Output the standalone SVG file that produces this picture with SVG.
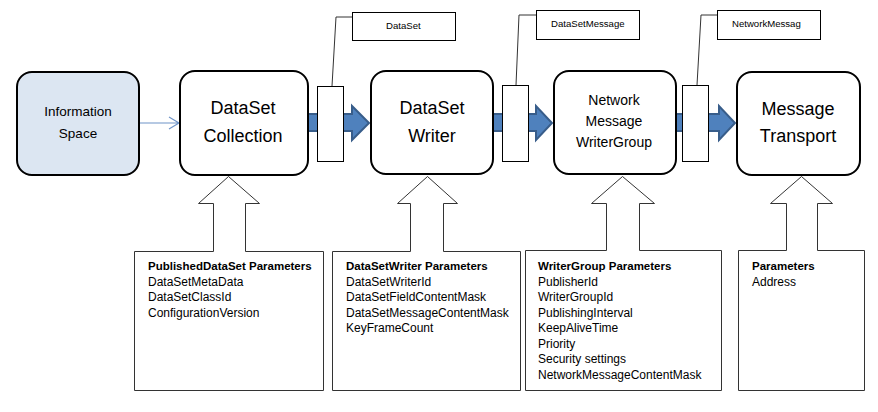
<svg xmlns="http://www.w3.org/2000/svg" width="878" height="412" viewBox="0 0 878 412">
<style>
.node{fill:#fff;stroke:#000;stroke-width:2}
.info{fill:#dce6f2}
.big{font-family:"Liberation Sans",Arial,sans-serif;font-size:18px;fill:#000;text-anchor:middle}
.mid{font-family:"Liberation Sans",Arial,sans-serif;font-size:14px;fill:#000;text-anchor:middle}
.sm{font-family:"Liberation Sans",Arial,sans-serif;font-size:13.5px;fill:#000;text-anchor:middle}
.lbl{font-family:"Liberation Sans",Arial,sans-serif;font-size:9.6px;fill:#000}
.p{font-family:"Liberation Sans",Arial,sans-serif;font-size:12px;fill:#000}
.pb{font-weight:bold;font-size:11.5px}
.box{fill:#fff;stroke:#000;stroke-width:1}
.callout{fill:#fff;stroke:#333;stroke-width:1}
.fat{fill:#4f81bd;stroke:#385d8a;stroke-width:2}
.thin{fill:none;stroke:#6f94c8;stroke-width:1.2}
.lead{fill:none;stroke:#333;stroke-width:1}
</style>
<g id="connectors">
  <path class="thin" d="M139,123 H179 M169,117 L179,123 L169,129"/>
  <path class="fat" d="M308,114 H352 V106 L369,123 L352,140 V131 H308 Z"/>
  <path class="fat" d="M493,114 H536 V106 L552,123 L536,140 V131 H493 Z"/>
  <path class="fat" d="M676,114 H719 V106 L735,123 L719,140 V131 H676 Z"/>
  <path class="lead" d="M332,86 L336,17 H352"/>
  <path class="lead" d="M516,85 L519,15 H536"/>
  <path class="lead" d="M697,85 L701,15 H717"/>
</g>
<g id="packet1"><rect class="box" x="317.5" y="86.5" width="26" height="75"/></g>
<g id="packet2"><rect class="box" x="502.5" y="85.5" width="26" height="76"/></g>
<g id="packet3"><rect class="box" x="682.5" y="85.5" width="26" height="76"/></g>
<g id="label-dataset"><rect class="box" x="352.5" y="12.5" width="103" height="28"/><text class="lbl" x="386" y="29">DataSet</text></g>
<g id="label-dsmessage"><rect class="box" x="536.5" y="10.5" width="103" height="29"/><text class="lbl" x="551" y="27">DataSetMessage</text></g>
<g id="label-netmessage"><rect class="box" x="717.5" y="10.5" width="103" height="29"/><text class="lbl" x="732" y="27">NetworkMessag</text></g>
<g id="information-space"><rect class="node info" x="17" y="72" width="122" height="103" rx="15"/><text class="sm" x="78" y="116">Information</text><text class="sm" x="78" y="138">Space</text></g>
<g id="dataset-collection"><rect class="node" x="180" y="71" width="128" height="104" rx="15"/><text class="big" x="243" y="114">DataSet</text><text class="big" x="243" y="142">Collection</text></g>
<g id="dataset-writer"><rect class="node" x="371" y="71" width="122" height="103" rx="15"/><text class="big" x="432" y="114">DataSet</text><text class="big" x="432" y="142">Writer</text></g>
<g id="writer-group"><rect class="node" x="554" y="71" width="122" height="103" rx="15"/><text class="mid" x="614" y="105">Network</text><text class="mid" x="614" y="126">Message</text><text class="mid" x="614" y="147">WriterGroup</text></g>
<g id="message-transport"><rect class="node" x="737" y="72" width="123" height="103" rx="15"/><text class="big" x="798" y="115">Message</text><text class="big" x="798" y="142">Transport</text></g>
<g id="published-dataset-params">
  <path class="callout" d="M134.5,251.5 H213.5 V203.5 H198.5 L228.5,176.5 L259.5,203.5 H245.5 V251.5 H323.5 V390.5 H134.5 Z"/>
  <text class="p pb" x="148" y="270">PublishedDataSet Parameters</text>
  <text class="p" x="148" y="286">DataSetMetaData</text>
  <text class="p" x="148" y="301">DataSetClassId</text>
  <text class="p" x="148" y="317">ConfigurationVersion</text>
</g>
<g id="datasetwriter-params">
  <path class="callout" d="M332.5,251.5 H410.5 V203.5 H397.5 L427.5,176.5 L457.5,203.5 H443.5 V251.5 H520.5 V390.5 H332.5 Z"/>
  <text class="p pb" x="346" y="270">DataSetWriter Parameters</text>
  <text class="p" x="346" y="286">DataSetWriterId</text>
  <text class="p" x="346" y="301">DataSetFieldContentMask</text>
  <text class="p" x="346" y="317">DataSetMessageContentMask</text>
  <text class="p" x="346" y="332">KeyFrameCount</text>
</g>
<g id="writergroup-params">
  <path class="callout" d="M525.5,250.5 H606.5 V203.5 H591.5 L622.5,176.5 L654.5,203.5 H639.5 V250.5 H721.5 V390.5 H525.5 Z"/>
  <text class="p pb" x="538" y="270">WriterGroup Parameters</text>
  <text class="p" x="538" y="286">PublisherId</text>
  <text class="p" x="538" y="301">WriterGroupId</text>
  <text class="p" x="538" y="317">PublishingInterval</text>
  <text class="p" x="538" y="332">KeepAliveTime</text>
  <text class="p" x="538" y="348">Priority</text>
  <text class="p" x="538" y="363">Security settings</text>
  <text class="p" x="538" y="379">NetworkMessageContentMask</text>
</g>
<g id="transport-params">
  <path class="callout" d="M738.5,250.5 H786.5 V203.5 H770.5 L801.5,176.5 L832.5,203.5 H817.5 V250.5 H864.5 V390.5 H738.5 Z"/>
  <text class="p pb" x="752" y="270">Parameters</text>
  <text class="p" x="752" y="286">Address</text>
</g>
</svg>
